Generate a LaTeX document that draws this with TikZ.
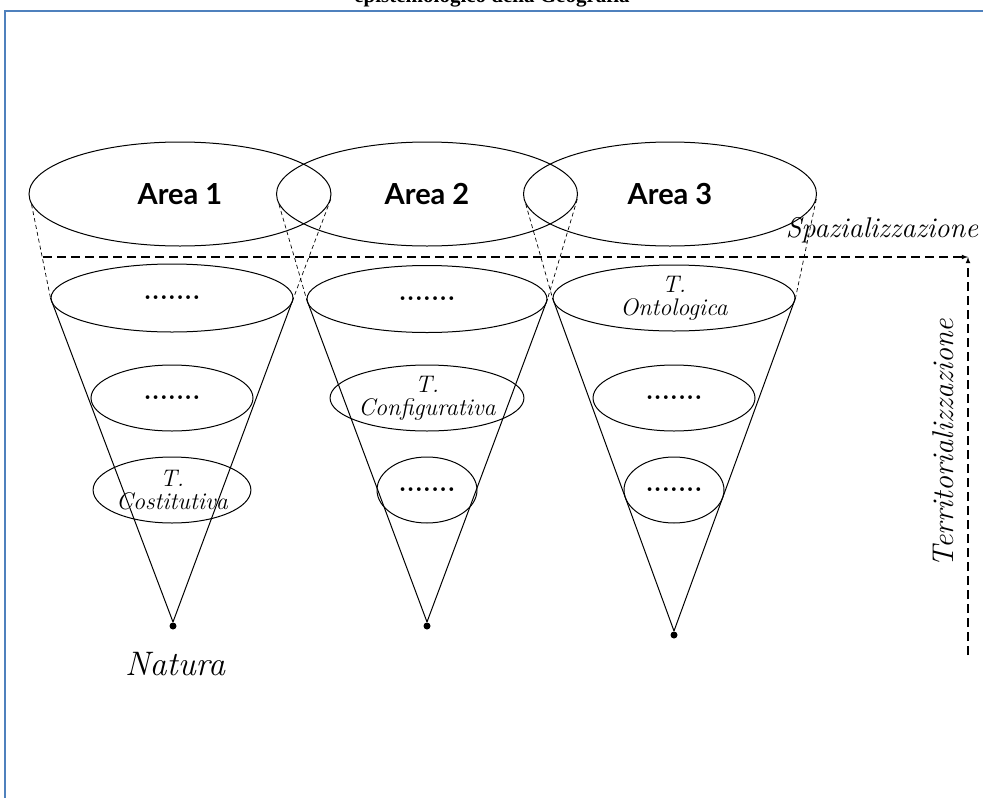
\documentclass[tikz,border=0pt]{standalone}
\usepackage{fontspec}
\newfontfamily\titlefont{Liberation Serif}
\newfontfamily\areafont{Lato}
\usetikzlibrary{shapes.geometric}
\definecolor{frameblue}{RGB}{79,129,189}
\newcommand{\puntini}{{\upshape\bfseries\fontsize{26}{26}\selectfont .......}}
\tikzset{
  area/.style={ellipse, draw, inner sep=0pt, font=\areafont\bfseries\fontsize{29}{32}\selectfont},
  lvl/.style={ellipse, draw, inner sep=0pt, align=center, font=\itshape\fontsize{24}{23}\selectfont},
  dot/.style={circle, fill, inner sep=0pt, minimum size=7pt},
  guide/.style={dash pattern=on 4pt off 3pt, line width=0.7pt},
  axis/.style={dash pattern=on 9pt off 5pt, line width=1.1pt},
}
\begin{document}
\begin{tikzpicture}[x=1pt,y=-1pt,line width=1pt]
  \useasboundingbox (0,0) rectangle (983,798);
  \draw [frameblue, line width=2pt] (5,805) -- (5,11) -- (990,11);
  \node [anchor=base, font=\titlefont\bfseries\fontsize{21}{25}\selectfont] (title) at (492,2) {epistemologico della Geografia};

  % cono 1
  \node [area, minimum width=302pt, minimum height=104pt] (a1) at (180,194) {Area 1};
  \node [lvl, minimum width=242pt, minimum height=68pt] (b1) at (172,298) {\puntini};
  \node [lvl, minimum width=162pt, minimum height=66pt] (c1) at (172,398) {\puntini};
  \node [lvl, minimum width=102pt, minimum height=66pt] (d1) at (172,490) {T.\\Costitutiva};
  \node [dot] (v1) at (173,626) {};
  \node [font=\itshape\fontsize{34}{36}\selectfont] (nat) at (175,664) {Natura};
  \draw [guide] (a1.184) -- (b1.west);
  \draw [guide] (a1.-2) -- (b1.east);
  \draw (b1.west) -- (v1.north);
  \draw (b1.east) -- (v1.north);

  % cono 2
  \node [area, minimum width=301pt, minimum height=104pt] (a2) at (427,194) {Area 2};
  \node [lvl, minimum width=240pt, minimum height=67pt] (b2) at (427,299) {\puntini};
  \node [lvl, minimum width=162pt, minimum height=66pt] (c2) at (427,398) {T.\\Configurativa};
  \node [lvl, minimum width=100pt, minimum height=66pt] (d2) at (427,490) {\puntini};
  \node [dot] (v2) at (427,626) {};
  \draw [guide] (a2.184) -- (b2.west);
  \draw [guide] (a2.-2) -- (b2.east);
  \draw (b2.west) -- (v2.north);
  \draw (b2.east) -- (v2.north);

  % cono 3
  \node [area, minimum width=293pt, minimum height=104pt] (a3) at (670,194) {Area 3};
  \node [lvl, minimum width=242pt, minimum height=66pt] (b3) at (674,298) {T.\\Ontologica};
  \node [lvl, minimum width=162pt, minimum height=66pt] (c3) at (674,398) {\puntini};
  \node [lvl, minimum width=100pt, minimum height=66pt] (d3) at (674,490) {\puntini};
  \node [dot] (v3) at (674,635) {};
  \draw [guide] (a3.184) -- (b3.west);
  \draw [guide] (a3.-2) -- (b3.east);
  \draw (b3.west) -- (v3.north);
  \draw (b3.east) -- (v3.north);

  % assi
  \coordinate (s0) at (43,257);
  \coordinate (k) at (968,257);
  \coordinate (t0) at (968,655);
  \draw [axis, -latex] (s0) -- (k);
  \draw [axis, -latex] (t0) -- (k);
  \node [font=\itshape\fontsize{28.5}{30}\selectfont] (spaz) at (882,230) {Spazializzazione};
  \node [rotate=90, font=\itshape\fontsize{30}{30}\selectfont] (terr) at (943,443) {Territorializzazione};
\end{tikzpicture}
\end{document}
